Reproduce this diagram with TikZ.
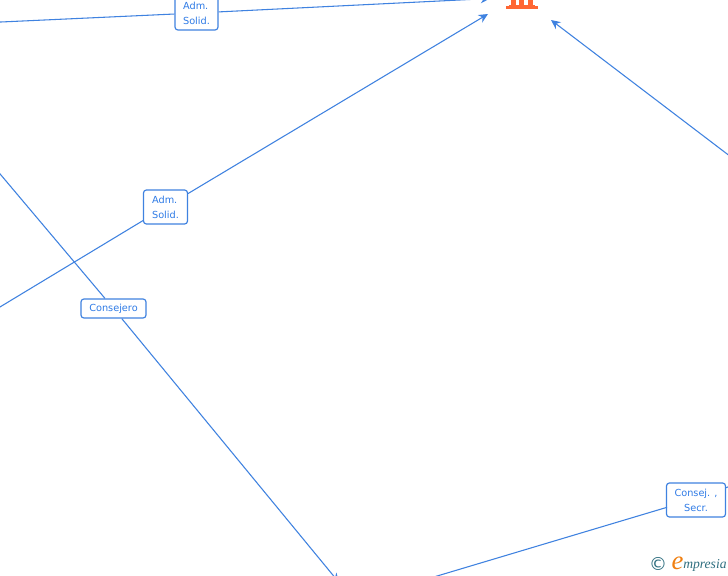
\documentclass[tikz,border=0pt]{standalone}
\usepackage{fontspec}
\setmainfont{DejaVu Sans}
\newfontfamily\logofont{Liberation Serif}
\usetikzlibrary{arrows.meta}
\definecolor{linkblue}{HTML}{3F82E0}
\definecolor{txtblue}{HTML}{2F7BE6}
\definecolor{iconorange}{HTML}{FF6633}
\definecolor{logoteal}{HTML}{2F6F80}
\definecolor{logoorange}{HTML}{F07F10}
\tikzset{
  role/.style={draw=linkblue,fill=white,rounded corners=2.2pt,line width=0.9pt,text=txtblue,
    font=\fontsize{7.3pt}{11.3pt}\selectfont,inner sep=0pt},
  link/.style={draw=linkblue,line width=0.8pt},
  arrowlink/.style={link,-{Stealth[length=7pt,width=6.5pt]}},
}
\begin{document}
\begin{tikzpicture}[x=0.75pt,y=-0.75pt]
\useasboundingbox (0,0) rectangle (728,575);
\clip (0,0) rectangle (728,575);
\fill[white] (0,0) rectangle (728,575);
\coordinate (l1) at (-10,22.5);
\coordinate (t1) at (490,-1.5);
\coordinate (l2) at (-10,313);
\coordinate (t2) at (488,14);
\coordinate (l3) at (-10,162);
\coordinate (t3) at (339,582.5);
\coordinate (r4) at (760,179);
\coordinate (t4) at (551,20);
\coordinate (b5) at (407,585);
\coordinate (p4) at (667,507.3);
\coordinate (u6) at (740,482);
\node[role,align=left,minimum width=43*0.75pt,minimum height=34*0.75pt] (n1) at (196.5,13) {Adm.\\Solid.};
\node[role,align=left,minimum width=44*0.75pt,minimum height=34*0.75pt] (n2) at (165.5,207) {Adm.\\Solid.};
\node[role,align=center,minimum width=65*0.75pt,minimum height=19*0.75pt] (n3) at (113.5,308.5) {Consejero};
\node[role,align=center,minimum width=59*0.75pt,minimum height=34*0.75pt] (n4) at (696,500) {Consej. ,\\Secr.};
\draw[link] (l1) -- (n1);
\draw[arrowlink] (n1) -- (t1);
\draw[link] (l2) -- (n2);
\draw[arrowlink] (n2) -- (t2);
\draw[link] (l3) -- (n3);
\draw[arrowlink] (n3) -- (t3);
\draw[arrowlink] (r4) -- (t4);
\draw[link] (b5) -- (p4);
\draw[link] (n4) -- (u6);
% building icon
\fill[iconorange] (506,6) rectangle (537.5,9);
\fill[iconorange] (508.5,4.5) rectangle (535,6.5);
\fill[iconorange] (510.5,-2) rectangle (515.5,6);
\fill[iconorange] (519,-2) rectangle (524,6);
\fill[iconorange] (527.5,-2) rectangle (532.5,6);
% logo
\node[text=logoteal,inner sep=0pt,font=\fontsize{13.5pt}{13.5pt}\selectfont] (cp) at (658,564) {©};
\node[text=logoorange,inner sep=0pt,font=\logofont\itshape\fontsize{20pt}{20pt}\selectfont] (ce) at (677.5,563) {e};
\node[text=logoteal,inner sep=0pt,anchor=west,font=\logofont\itshape\fontsize{10.2pt}{10.2pt}\selectfont] (lg) at (683,565) {mpresia};
\end{tikzpicture}
\end{document}
